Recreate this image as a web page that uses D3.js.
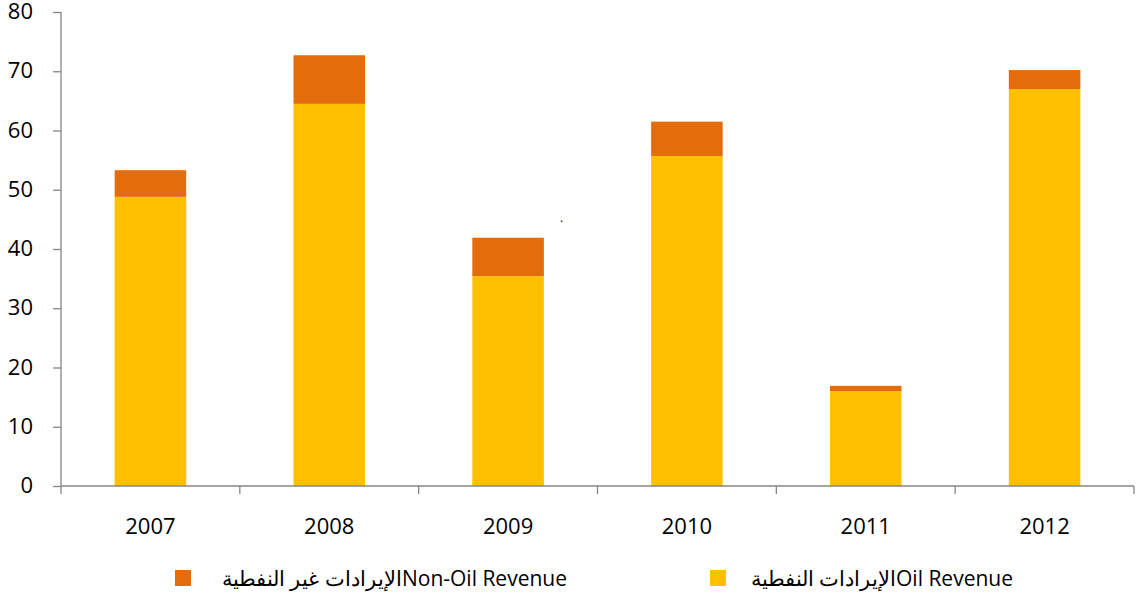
<html>
<head>
<meta charset="utf-8">
<script src="https://d3js.org/d3.v7.min.js"></script>
<style>
  body { margin: 0; background: #fff; }
  svg text { font-family: "Open Sans", "Liberation Sans", sans-serif; fill: #000; }
</style>
</head>
<body>
<script>
// values (billions)
var years = ["2007", "2008", "2009", "2010", "2011", "2012"];
var oilRevenue = [48.8, 64.5, 35.4, 55.7, 16.0, 67.0];
var nonOilRevenue = [4.5, 8.2, 6.5, 5.8, 0.9, 3.2];
var yTicks = [0, 10, 20, 30, 40, 50, 60, 70, 80];
var seriesNames = ["الإيرادات النفطيةOil Revenue", "الإيرادات غير النفطيةNon-Oil Revenue"];
var colors = ["#FFC000", "#E46C0A"];

var width = 1139, height = 598;
var plotLeft = 61, plotRight = 1134, plotTop = 12, plotBottom = 486;

var svg = d3.select("body").append("svg")
  .attr("width", width)
  .attr("height", height);

var x = d3.scaleBand().domain(years).range([plotLeft, plotRight]).paddingInner(0.6).paddingOuter(0.3);
var xb = d3.scaleBand().domain(years).range([plotLeft, plotRight]); // category boundaries
var y = d3.scaleLinear().domain([0, 80]).range([plotBottom, plotTop]);

var rows = years.map(function(yr, i) {
  return { year: yr, oil: oilRevenue[i], nonOil: nonOilRevenue[i] };
});
var stacked = d3.stack().keys(["oil", "nonOil"])(rows);

svg.selectAll("g.series")
  .data(stacked)
  .enter().append("g")
  .attr("class", "series")
  .attr("fill", function(d, i) { return colors[i]; })
  .selectAll("rect")
  .data(function(d) { return d; })
  .enter().append("rect")
  .attr("x", function(d) { return x(d.data.year); })
  .attr("width", x.bandwidth())
  .attr("y", function(d) { return y(d[1]); })
  .attr("height", function(d) { return y(d[0]) - y(d[1]); });

// y axis
var yAxis = svg.append("g")
  .attr("transform", "translate(" + plotLeft + ",0)")
  .call(d3.axisLeft(y).tickValues(yTicks).tickSize(8).tickPadding(20));
yAxis.selectAll("line, path").attr("stroke", "#868686").attr("stroke-width", 1.3);
yAxis.selectAll("text").style("font-size", "22px").attr("dy", "0.3em");
yAxis.select(".domain").attr("d", "M0," + plotTop + "V" + plotBottom);

// x axis: line with ticks at category boundaries
var xg = svg.append("g");
xg.append("line")
  .attr("x1", plotLeft).attr("x2", plotRight)
  .attr("y1", plotBottom).attr("y2", plotBottom)
  .attr("stroke", "#868686").attr("stroke-width", 1.3);
var bounds = years.map(function(d) { return xb(d); }).concat([plotRight]);
xg.selectAll("line.tk")
  .data(bounds)
  .enter().append("line")
  .attr("class", "tk")
  .attr("x1", function(d) { return d; }).attr("x2", function(d) { return d; })
  .attr("y1", plotBottom).attr("y2", plotBottom + 8)
  .attr("stroke", "#868686").attr("stroke-width", 1.3);
xg.selectAll("text")
  .data(years)
  .enter().append("text")
  .attr("x", function(d) { return xb(d) + xb.bandwidth() / 2; })
  .attr("y", 534)
  .attr("text-anchor", "middle")
  .style("font-size", "22px")
  .text(function(d) { return d; });

// stray dot seen in the picture
svg.append("text").attr("x", 560).attr("y", 222).style("font-size", "12px").text(".");

// legend
var legendPos = [{ sx: 710, tx: 1013 }, { sx: 175, tx: 567 }];
var lg = svg.selectAll("g.legend")
  .data(seriesNames)
  .enter().append("g")
  .attr("class", "legend");
lg.append("rect")
  .attr("x", function(d, i) { return legendPos[i].sx; })
  .attr("y", 570)
  .attr("width", 16).attr("height", 16)
  .attr("fill", function(d, i) { return colors[i]; });
lg.append("text")
  .attr("x", function(d, i) { return legendPos[i].tx; })
  .attr("y", 586)
  .attr("text-anchor", "end")
  .attr("direction", "ltr")
  .style("font-size", "21px")
  .text(function(d) { return d; });
</script>
</body>
</html>
